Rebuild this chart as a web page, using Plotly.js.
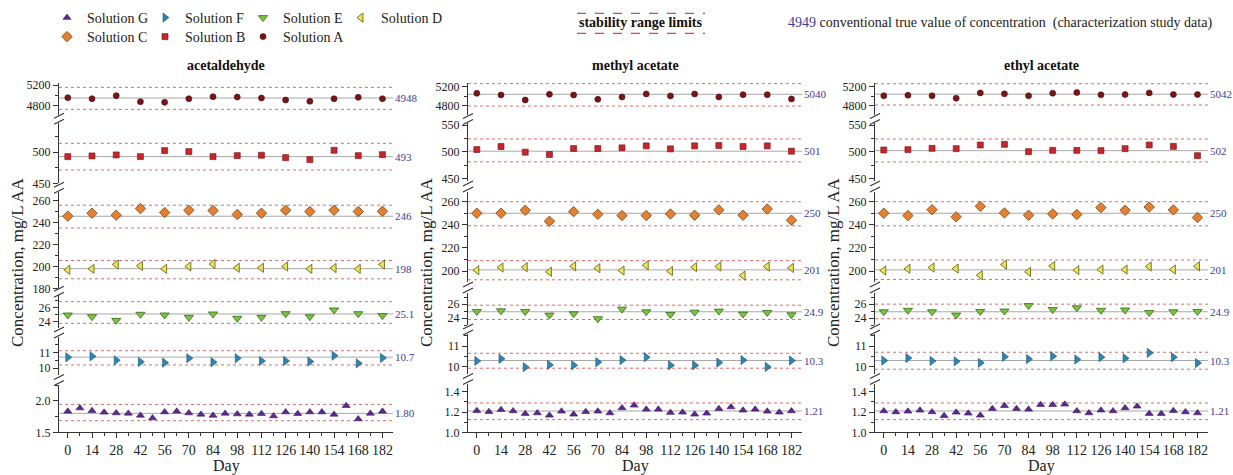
<!DOCTYPE html>
<html><head><meta charset="utf-8">
<script src="https://cdn.plot.ly/plotly-3.0.1.min.js"></script>
<style>html,body{margin:0;padding:0;background:#fff}</style>
</head><body><div id="chart" style="width:1233px;height:475px"></div>
<script>
// ---------------- DATA ----------------
const days14 = [0,14,28,42,56,70,84,98,112,126,140,154,168,182];
const days7 = [0,7,14,21,28,35,42,49,56,63,70,77,84,91,98,105,112,119,126,133,140,147,154,161,168,175,182];
const compounds = ['acetaldehyde','methyl acetate','ethyl acetate'];
const solutions = ['Solution A','Solution B','Solution C','Solution D','Solution E','Solution F','Solution G'];

// acetaldehyde
const acetA = [4955,4935,4994,4877,4865,4935,4974,4968,4948,4910,4884,4935,4961,4935];
const acetB = [493.0,494.1,495.7,493.0,502.7,501.1,493.0,494.6,495.2,491.4,488.2,503.2,494.6,496.2];
const acetC = [246.1,248.8,247.0,253.0,249.4,251.5,251.2,247.6,248.8,251.5,250.3,251.5,250.3,250.6];
const acetD = [196.9,197.8,201.8,200.6,197.8,200.0,202.2,198.8,198.8,200.0,197.8,198.5,197.8,201.8];
const acetE = [24.95,24.71,24.19,25.05,24.95,24.62,25.10,24.48,24.62,25.14,24.71,25.67,25.14,24.86];
const acetF = [10.69,10.75,10.50,10.40,10.35,10.63,10.38,10.63,10.46,10.46,10.42,10.79,10.31,10.65];
const acetG = [1.832,1.884,1.842,1.816,1.805,1.800,1.768,1.726,1.821,1.832,1.805,1.784,1.768,1.800,1.789,1.784,1.795,1.758,1.821,1.795,1.821,1.821,1.784,1.921,1.711,1.800,1.832];
const acetTrue = [4948,493,246,198,25.1,10.7,1.80];
const acetTrueLabels = ['4948','493','246','198','25.1','10.7','1.80'];
const acetUpper = [5155,514.5,256.1,205.5,26.86,11.10,1.942];
const acetLower = [4729,471.5,235.2,188.7,23.76,10.21,1.684];

// methyl acetate
const meacA = [5061,5026,4921,5040,5026,4935,4984,5047,5005,5047,4984,5033,5033,4942];
const meacB = [504.1,509.8,499.1,494.8,506.0,506.0,507.3,511.0,505.4,511.0,511.6,509.8,511.0,501.0];
const meacC = [250.0,250.0,252.6,243.1,251.4,249.1,248.0,248.0,249.4,248.3,252.9,248.3,253.7,244.0];
const meacD = [200.7,203.0,203.3,199.3,204.1,202.4,200.4,205.0,199.9,203.3,203.9,196.1,203.9,202.7];
const meacE = [24.95,25.04,24.95,24.42,24.61,23.90,25.28,24.90,24.52,24.85,25.00,24.57,24.80,24.47];
const meacF = [10.28,10.38,9.98,10.09,10.07,10.22,10.32,10.46,10.07,10.07,10.20,10.32,9.99,10.30];
const meacG = [1.213,1.203,1.223,1.210,1.184,1.190,1.167,1.207,1.177,1.203,1.207,1.190,1.240,1.266,1.226,1.226,1.194,1.197,1.177,1.187,1.233,1.249,1.217,1.226,1.207,1.197,1.210];
const meacTrue = [5040,501,250,201,24.9,10.3,1.21];
const meacTrueLabels = ['5040','501','250','201','24.9','10.3','1.21'];
const meacUpper = [5265,524.1,260.0,209.0,25.85,10.65,1.289];
const meacLower = [4794,481.0,239.1,192.4,23.80,9.93,1.125];

// ethyl acetate
const etacA = [5008,5021,5008,4959,5070,5049,5008,5063,5077,5028,5035,5070,5035,5035];
const etacB = [503.3,503.9,506.4,505.8,512.6,513.9,500.1,502.6,502.6,502.0,505.8,512.6,510.1,492.6];
const etacC = [250.0,248.0,253.1,246.9,256.0,250.3,248.3,249.4,248.9,254.9,252.6,255.4,252.9,246.3];
const etacD = [200.4,201.9,203.0,202.1,196.4,205.6,199.3,204.4,200.7,201.3,201.3,203.9,201.3,204.1];
const etacE = [24.90,25.11,24.90,24.43,24.95,25.01,25.79,25.22,25.48,25.11,25.16,24.79,24.90,24.95];
const etacF = [10.30,10.42,10.28,10.26,10.19,10.48,10.37,10.51,10.35,10.46,10.41,10.67,10.46,10.18];
const etacG = [1.210,1.200,1.207,1.217,1.200,1.164,1.197,1.187,1.167,1.233,1.262,1.233,1.226,1.272,1.272,1.276,1.210,1.190,1.217,1.210,1.240,1.256,1.184,1.184,1.213,1.200,1.190];
const etacTrue = [5042,502,250,201,24.9,10.3,1.21];
const etacTrueLabels = ['5042','502','250','201','24.9','10.3','1.21'];
const etacUpper = [5263,523.9,260.0,209.6,26.0,10.70,1.289];
const etacLower = [4814,480.8,239.1,192.7,23.9,9.88,1.125];

const xTickVals = [0,14,28,42,56,70,84,98,112,126,140,154,168,182];
const legendText = 'stability range limits';
const noteValue = '4949';
const noteText = ' conventional true value of concentration  (characterization study data)';
const yTitle = 'Concentration, mg/L AA';
const xTitle = 'Day';

// ---------------- STYLE / GEOMETRY ----------------
const W = 1233, H = 475;
const px = v => v / W;
const py = v => 1 - v / H;
const serif = '"Liberation Serif", "Times New Roman", serif';
const blueLbl = '#3d3d99';

const seriesData = [
  [acetA, acetB, acetC, acetD, acetE, acetF, acetG],
  [meacA, meacB, meacC, meacD, meacE, meacF, meacG],
  [etacA, etacB, etacC, etacD, etacE, etacF, etacG]
];
const trueVals = [acetTrue, meacTrue, etacTrue];
const trueLabels = [acetTrueLabels, meacTrueLabels, etacTrueLabels];
const upperVals = [acetUpper, meacUpper, etacUpper];
const lowerVals = [acetLower, meacLower, etacLower];

const markerStyles = [
  {symbol:'circle', size:6, color:'#7a1416', line:{color:'#4a0a0c', width:0.6}},
  {symbol:'square', size:6, color:'#c4262c', line:{color:'#7a1015', width:0.6}},
  {symbol:'diamond', size:8, color:'#e5802f', line:{color:'#7a4018', width:0.8}},
  {symbol:'triangle-left', size:8, color:'#ebe45a', line:{color:'#6e6a16', width:0.9}},
  {symbol:'triangle-down', size:8, color:'#79c43c', line:{color:'#356a18', width:0.8}},
  {symbol:'triangle-right', size:8, color:'#2d87b5', line:{color:'#1a5272', width:0.6}},
  {symbol:'triangle-up', size:7, color:'#5b2a8f', line:{color:'#3a165e', width:0.6}}
];
const legendRank = [7,6,5,4,3,2,1];
const lastInRow = [true,false,false,true,false,false,false];
const solSeg = [0,1,2,2,3,4,5];

const colX = [[59,393],[468,802],[875,1208]];
const segPx = [
  [[83,115],[122.5,183.3],[192,288.3],[295,328],[337,375],[385,432.3]],
  [[83,115],[123,181],[192,282],[293,325],[334,374],[384,432.3]],
  [[83,115],[123,181],[192,282],[293,325],[334,374],[384,432.3]]
];
const segRange = [
  [[4620,5239],[450,548],[180,268.2],[23.1,27.8],[9.58,11.96],[1.5,2.25]],
  [[4604,5278],[445,554],[190.5,268.4],[23.0,27.6],[9.65,11.58],[1.0,1.476]],
  [[4604,5278],[445,554],[190.5,268.4],[23.0,27.6],[9.65,11.58],[1.0,1.476]]
];
const segDtick = [[400,50,20,2,1,0.5],[400,50,20,2,1,0.2],[400,50,20,2,1,0.2]];
const segMinor = [[200,25,10,1,0.5,0.25],[200,25,10,1,0.5,0.1],[200,25,10,1,0.5,0.1]];

const legendBase = {orientation:'h', xanchor:'left', yanchor:'top',
  entrywidth: 53, entrywidthmode:'pixels', bgcolor:'rgba(0,0,0,0)',
  font:{family:serif, size:14, color:'#222'}, tracegroupgap:0};

const layout = {
  width: W, height: H, autosize: false,
  margin: {l:0, r:0, t:0, b:0},
  paper_bgcolor: '#fff', plot_bgcolor: '#fff',
  font: {family: serif, color: '#222'},
  showlegend: true,
  legend: Object.assign({}, legendBase, {x: px(47), y: py(2)}),
  legend2: Object.assign({}, legendBase, {x: px(47), y: py(21)}),
  shapes: [], annotations: []
};

const traces = [];
const axisLine = {showline:true, linecolor:'#333', linewidth:1, ticks:'outside', ticklen:5,
  tickcolor:'#333', tickwidth:1, showgrid:false, zeroline:false};

for (let c = 0; c < 3; c++) {
  const xName = c === 0 ? 'xaxis' : 'xaxis' + (c + 1);
  const xRef = c === 0 ? 'x' : 'x' + (c + 1);
  const bottomN = c * 6 + 6;
  layout[xName] = Object.assign({}, axisLine, {
    domain: [px(colX[c][0]), px(colX[c][1])],
    anchor: 'y' + bottomN,
    range: [-5.1, 188.1],
    tickmode: 'array', tickvals: xTickVals,
    tickfont: {family: serif, size: 14, color:'#222'},
    minor: {ticks:'outside', ticklen:3, tickcolor:'#333', dtick:7, tick0:0, showgrid:false}
  });
  for (let s = 0; s < 6; s++) {
    const n = c * 6 + s + 1;
    const yName = n === 1 ? 'yaxis' : 'yaxis' + n;
    layout[yName] = Object.assign({}, axisLine, {
      domain: [py(segPx[c][s][1]), py(segPx[c][s][0])],
      anchor: xRef,
      range: segRange[c][s],
      tick0: 0, dtick: segDtick[c][s],
      tickformat: s === 5 ? '.1f' : '',
      tickfont: {family: serif, size: 12, color:'#222'},
      minor: {ticks:'outside', ticklen:3, tickcolor:'#333', dtick: segMinor[c][s], tick0:0, showgrid:false}
    });
  }
  // break marks
  const ax = colX[c][0];
  for (let s = 0; s < 5; s++) {
    const yc = (segPx[c][s][1] + segPx[c][s+1][0]) / 2;
    [[yc - 0.5, yc - 5.5], [yc + 5.5, yc + 0.5]].forEach(p => {
      layout.shapes.push({type:'line', xref:'paper', yref:'paper',
        x0: px(ax - 5), y0: py(p[0]), x1: px(ax + 5), y1: py(p[1]),
        line:{color:'#333', width:1.1}});
    });
  }
  // titles
  const cx = (colX[c][0] + colX[c][1]) / 2;
  layout.annotations.push({xref:'paper', yref:'paper', x: px(cx), y: py(66), text:'<b>' + compounds[c] + '</b>',
    showarrow:false, xanchor:'center', yanchor:'middle', font:{family:serif, size:14, color:'#111'}});
  layout.annotations.push({xref:'paper', yref:'paper', x: px(cx), y: py(466), text: xTitle,
    showarrow:false, xanchor:'center', yanchor:'middle', font:{family:serif, size:16, color:'#222'}});
  layout.annotations.push({xref:'paper', yref:'paper', x: px(colX[c][0] - 42), y: py(262), text: yTitle,
    textangle:-90, showarrow:false, xanchor:'center', yanchor:'middle', font:{family:serif, size:17, color:'#222'}});

  for (let r = 0; r < 7; r++) {
    const s = solSeg[r];
    const n = c * 6 + s + 1;
    const yRef = n === 1 ? 'y' : 'y' + n;
    const tr = {
      type:'scatter', mode:'markers',
      x: r === 6 ? days7 : days14, y: seriesData[c][r],
      xaxis: xRef, yaxis: yRef,
      name: solutions[r], legendgroup: solutions[r], showlegend: c === 0,
      legend: r >= 3 ? 'legend' : 'legend2', legendrank: legendRank[r],
      marker: markerStyles[r], cliponaxis:false
    };
    if (lastInRow[r]) tr.legendwidth = 75;
    traces.push(tr);
    const dom = xRef + ' domain';
    layout.shapes.push({type:'line', layer:'below', xref: dom, yref: yRef, x0:0, x1:1,
      y0: trueVals[c][r], y1: trueVals[c][r], line:{color:'#a8a8a8', width:1}});
    [upperVals[c][r], lowerVals[c][r]].forEach(v => {
      layout.shapes.push({type:'line', layer:'below', xref: dom, yref: yRef, x0:0, x1:1,
        y0: v, y1: v, line:{color:'#e06a6a', width:1, dash:'dot'}});
    });
    layout.annotations.push({xref: dom, yref: yRef, x: 1, y: trueVals[c][r], xanchor:'left', yanchor:'middle',
      xshift: 0, text: trueLabels[c][r], showarrow:false, font:{family:serif, size:11, color: blueLbl}});
  }
}

// header legend items
layout.annotations.push({xref:'paper', yref:'paper', x: px(640), y: py(23), text:'<b>' + legendText + '</b>',
  showarrow:false, xanchor:'center', yanchor:'middle', font:{family:serif, size:14, color:'#111'}});
[13.3, 33.3].forEach(yy => layout.shapes.push({type:'line', xref:'paper', yref:'paper',
  x0: px(577), x1: px(705), y0: py(yy), y1: py(yy), line:{color:'#d94848', width:1.3, dash:'dash'}}));
layout.annotations.push({xref:'paper', yref:'paper', x: px(786), y: py(23),
  text:'<span style="color:' + blueLbl + '">' + noteValue + '</span>' + noteText,
  showarrow:false, xanchor:'left', yanchor:'middle', font:{family:serif, size:14, color:'#222'}});

Plotly.newPlot('chart', traces, layout, {staticPlot:true, displayModeBar:false});
</script>
</body></html>
